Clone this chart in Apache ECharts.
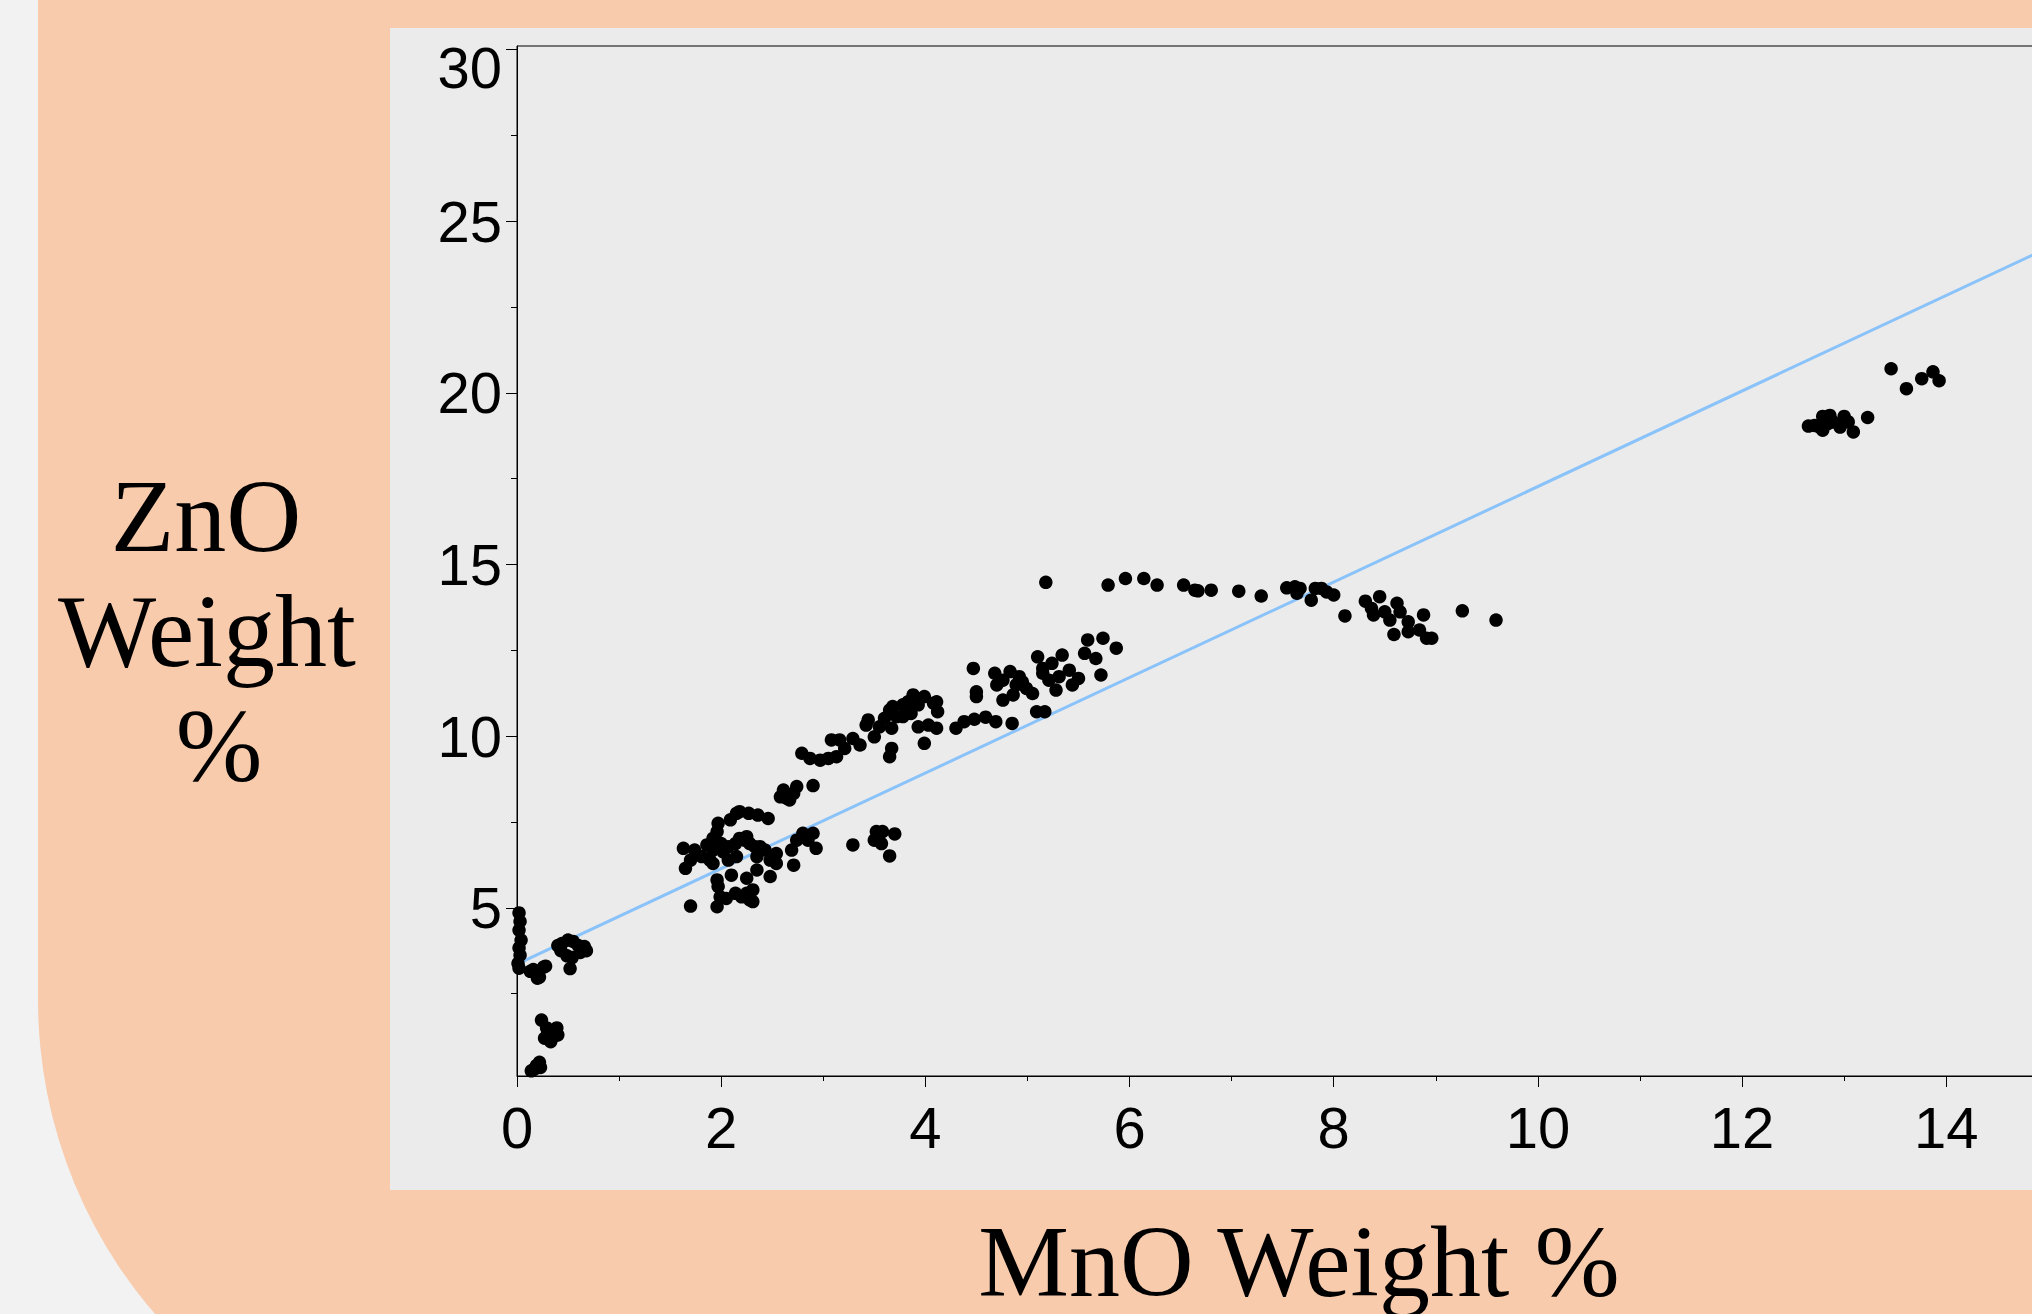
<!DOCTYPE html>
<html>
<head>
<meta charset="utf-8">
<script src="https://cdn.jsdelivr.net/npm/echarts@6/dist/echarts.min.js"></script>
<style>
html,body{margin:0;padding:0;width:2032px;height:1314px;overflow:hidden;background:#F2F2F2;}
#peach{position:absolute;left:38px;top:-300px;width:3000px;height:1780px;background:#F8CBAD;border-bottom-left-radius:480px;}
#panel{position:absolute;left:390px;top:28px;width:3000px;height:1162px;background:#EBEBEB;}
#chart{position:absolute;left:0;top:0;width:2300px;height:1314px;}
</style>
</head>
<body>
<div id="peach"></div>
<div id="panel"></div>
<div id="chart"></div>
<script>
// ---- data: [MnO weight %, ZnO weight %] ----
const samples = [
  // near x = 0
  [0.02,4.85],[0.03,4.6],[0.02,4.35],[0.04,4.06],[0.02,3.83],[0.03,3.62],[0.01,3.38],[0.02,3.24],
  [0.13,3.15],[0.18,3.1],[0.22,2.98],[0.26,3.27],[0.28,3.3],[0.2,2.95],[0.16,3.2],
  [0.44,3.96],[0.5,4.06],[0.55,4.02],[0.6,3.9],[0.66,3.87],[0.68,3.75],[0.62,3.7],[0.43,3.75],[0.49,3.6],[0.54,3.55],[0.4,3.9],[0.52,3.23],
  [0.24,1.73],[0.29,1.5],[0.39,1.5],[0.4,1.3],[0.27,1.2],[0.33,1.1],[0.36,1.25],[0.3,1.35],
  [0.14,0.25],[0.19,0.4],[0.22,0.5],[0.17,0.3],[0.23,0.35],
  // x 1.6 - 3.7
  [1.63,6.73],[1.74,6.68],[1.86,6.83],[1.92,6.68],[1.96,7.22],[1.97,7.46],[1.92,7.02],[2.0,6.87],[2.02,6.63],[2.07,6.78],
  [2.14,6.87],[2.18,7.02],[2.23,6.97],[2.28,6.87],[2.33,6.78],[2.38,6.78],[2.43,6.68],[2.25,7.07],[1.89,6.39],[1.81,6.49],
  [1.70,6.39],[1.65,6.15],[1.92,6.29],[2.07,6.39],[2.15,6.49],[2.35,6.49],
  [2.15,7.75],[2.18,7.8],[2.27,7.75],[2.36,7.70],[2.46,7.6],[2.09,7.56],
  [2.10,5.95],[1.96,5.81],[1.97,5.62],[1.99,5.32],[1.96,5.03],[2.05,5.27],[2.14,5.42],[2.2,5.32],[2.25,5.42],[2.28,5.23],
  [2.31,5.18],[2.25,5.86],[2.35,6.1],[2.31,5.52],
  [1.70,5.05],[2.48,5.91],[2.54,6.58],[2.48,6.39],[2.54,6.29],[2.71,6.24],[2.69,6.68],[2.74,6.97],[2.80,7.17],[2.90,7.17],
  [2.85,6.97],[2.93,6.73],
  [3.29,6.83],[3.52,7.22],[3.58,7.22],[3.70,7.15],[3.50,6.97],[3.57,6.87],[3.65,6.51],
  [2.61,8.43],[2.58,8.23],[2.64,8.19],[2.71,8.33],[2.74,8.53],[2.67,8.14],[2.90,8.56],
  [2.79,9.50],[2.87,9.35],[2.97,9.30],[3.05,9.35],[3.13,9.40],[3.08,9.89],[3.16,9.89],[3.21,9.64],[3.29,9.93],[3.36,9.74],
  // x 3.4 - 5.9
  [3.44,10.47],[3.42,10.32],[3.50,9.98],[3.55,10.27],[3.60,10.52],[3.65,10.76],[3.68,10.86],[3.72,10.57],[3.67,10.23],[3.78,10.91],
  [3.83,11.0],[3.88,11.2],[3.93,10.91],[3.99,11.15],[4.08,10.96],[4.11,11.0],[4.12,10.71],[3.78,10.57],[3.86,10.66],
  [3.67,9.64],[3.65,9.40],
  [3.93,10.27],[4.03,10.32],[4.11,10.23],[3.99,9.79],
  [4.30,10.23],[4.38,10.42],[4.48,10.49],[4.59,10.55],[4.69,10.42],[4.85,10.37],
  [5.09,10.71],[5.17,10.71],
  [4.47,11.97],[4.50,11.29],[4.50,11.15],
  [4.68,11.83],[4.83,11.88],[4.70,11.49],[4.76,11.05],[4.86,11.2],[4.92,11.73],[4.99,11.39],[5.05,11.24],[5.10,12.31],[5.15,11.97],
  [5.21,11.63],[5.28,11.34],[5.34,12.36],[5.41,11.92],[5.44,11.49],[5.50,11.68],[5.56,12.41],[5.59,12.80],[5.67,12.26],[5.74,12.85],
  [5.72,11.78],[4.95,11.58],[4.76,11.63],[5.24,12.12],[5.15,11.83],[4.89,11.49],[5.31,11.73],
  [5.87,12.56],[5.18,14.48],
  // x 5.8 - 9.6
  [5.79,14.40],[5.96,14.59],[6.14,14.59],[6.27,14.40],[6.53,14.40],[6.64,14.25],[6.67,14.23],[6.80,14.25],[7.07,14.22],[7.29,14.08],
  [7.54,14.32],[7.62,14.35],[7.67,14.30],[7.64,14.16],[7.82,14.30],[7.88,14.30],[7.93,14.20],[8.0,14.11],[7.78,13.96],[8.11,13.50],
  [8.31,13.93],[8.45,14.06],[8.37,13.72],[8.39,13.53],[8.50,13.62],[8.55,13.38],[8.62,13.87],[8.65,13.62],[8.73,13.33],[8.88,13.53],
  [8.84,13.09],[8.73,13.04],[8.59,12.96],[8.91,12.85],[8.96,12.85],[9.26,13.65],[9.59,13.38],
  // x 12.6 - 14
  [13.46,20.70],[13.61,20.12],[13.76,20.41],[13.87,20.61],[13.93,20.35],[12.65,19.03],[12.71,19.05],[12.79,19.31],[12.79,18.91],[12.86,19.34],
  [12.89,19.15],[12.96,19.0],[13.0,19.31],[13.04,19.15],[13.09,18.86],[13.23,19.28],[12.84,19.1],[12.76,19.0]
];

// fitted line end points
const fitMnO = [0, 15.32];
const fitZnO = [3.36, 24.67];

// ticks
const xMajorTicks = [0, 2, 4, 6, 8, 10, 12, 14];
const xMinorTicks = [1, 3, 5, 7, 9, 11, 13, 15];
const yMajorTicks = [5, 10, 15, 20, 25, 30];
const yMinorTicks = [2.5, 7.5, 12.5, 17.5, 22.5, 27.5];

const xTitle = 'MnO Weight %';
const yTitleLines = ['ZnO', 'Weight', '%'];

// ---- chart ----
const axisFont = '"Liberation Sans", Arial, Helvetica, sans-serif';
const titleFont = '"Liberation Serif", "Times New Roman", serif';
const X_MIN = 0, X_MAX = 15.32, Y_MIN = 0.1, Y_MAX = 30.1;

const chart = echarts.init(document.getElementById('chart'), null, {renderer: 'svg'});

const tickStyle = {color: '#000', width: 1};
const yTitleX = [206, 207, 219];
const yTitleY = [515, 630, 745];

const option = {
  animation: false,
  backgroundColor: 'transparent',
  grid: {left: 517, top: 46, width: 1564, height: 1030, show: true,
         borderColor: '#000', borderWidth: 1, backgroundColor: 'transparent'},
  xAxis: [
    {type: 'value', min: X_MIN, max: X_MAX, position: 'bottom',
     axisLine: {show: true, onZero: false, lineStyle: tickStyle},
     axisTick: {show: true, inside: false, length: 11, customValues: xMajorTicks, lineStyle: tickStyle},
     axisLabel: {customValues: xMajorTicks, color: '#000', fontSize: 58, fontFamily: axisFont, margin: 22},
     splitLine: {show: false}},
    {type: 'value', min: X_MIN, max: X_MAX, position: 'bottom',
     axisLine: {show: false, onZero: false},
     axisTick: {show: true, inside: false, length: 5, customValues: xMinorTicks, lineStyle: tickStyle},
     axisLabel: {show: false},
     splitLine: {show: false}}
  ],
  yAxis: [
    {type: 'value', min: Y_MIN, max: Y_MAX, position: 'left',
     axisLine: {show: true, onZero: false, lineStyle: tickStyle},
     axisTick: {show: true, inside: false, length: 11, customValues: yMajorTicks, lineStyle: tickStyle},
     axisLabel: {customValues: yMajorTicks, color: '#000', fontSize: 58, fontFamily: axisFont, margin: 15,
       formatter: function (v) { return v === 30 ? '{t|30}' : String(v); },
       rich: {t: {padding: [36, 0, 0, 0], fontSize: 58, fontFamily: axisFont, color: '#000'}}},
     splitLine: {show: false}},
    {type: 'value', min: Y_MIN, max: Y_MAX, position: 'left',
     axisLine: {show: false, onZero: false},
     axisTick: {show: true, inside: false, length: 6, customValues: yMinorTicks, lineStyle: tickStyle},
     axisLabel: {show: false},
     splitLine: {show: false}}
  ],
  series: [
    {type: 'line', xAxisIndex: 0, yAxisIndex: 0, z: 2,
     data: fitMnO.map((x, i) => [x, fitZnO[i]]),
     showSymbol: false, symbol: 'none',
     lineStyle: {color: '#8AC2FA', width: 3}},
    {type: 'scatter', xAxisIndex: 0, yAxisIndex: 0, z: 3,
     data: samples, symbol: 'circle', symbolSize: 13.5,
     itemStyle: {color: '#000', opacity: 1}}
  ],
  graphic: yTitleLines.map((t, i) => ({
    type: 'text', x: yTitleX[i], y: yTitleY[i], z: 10,
    style: {text: t, fontSize: 104, fontFamily: titleFont,
            align: 'center', verticalAlign: 'middle', fill: '#000'}
  })).concat([
    {type: 'text', x: 1299, y: 1261, z: 10,
     style: {text: xTitle, fontSize: 102, fontFamily: titleFont,
             align: 'center', verticalAlign: 'middle', fill: '#000'}}
  ])
};
chart.setOption(option);
</script>
</body>
</html>
